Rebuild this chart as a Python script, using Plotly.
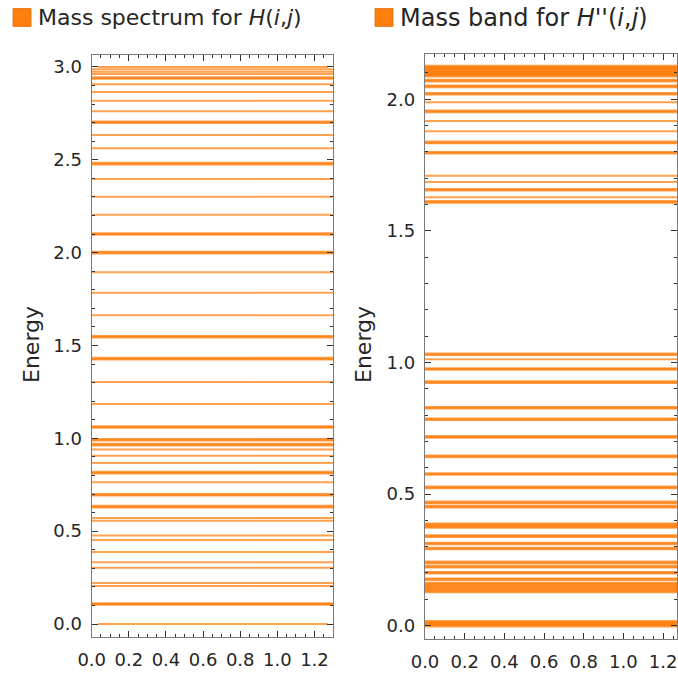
import plotly.graph_objects as go

# ---------------- data ----------------
# Left panel: mass spectrum for H(i,j); multiplicity 2 = darker/thicker line
left_levels = [3.000, 2.987, 2.974, 2.962, 2.940, 2.906, 2.865, 2.818, 2.761, 2.702,
               2.633, 2.562, 2.479, 2.396, 2.301, 2.204, 2.100, 2.000, 1.894, 1.784,
               1.662, 1.547, 1.429, 1.303, 1.185, 1.061, 0.992, 0.966, 0.939, 0.906,
               0.867, 0.815, 0.763, 0.696, 0.632, 0.571, 0.556, 0.476, 0.452, 0.388,
               0.332, 0.303, 0.221, 0.205, 0.108, 0.000]
left_mult = [1, 1, 1, 1, 2, 1, 1, 1, 1, 2,
             1, 1, 2, 1, 1, 1, 2, 2, 1, 1,
             1, 2, 2, 1, 1, 2, 2, 2, 1, 1,
             1, 2, 1, 2, 2, 1, 1, 1, 1, 1,
             1, 1, 1, 1, 2, 1]
left_short = [3.000, 0.000]   # the two end levels are drawn a little shorter

# Right panel: mass band for H''(i,j)
right_levels = [2.124, 2.117, 2.110, 2.103, 2.096, 2.090, 2.071, 2.049, 2.021, 1.989,
                1.954, 1.917, 1.878, 1.836, 1.797, 1.709, 1.686, 1.656, 1.628, 1.610,
                1.031, 1.012, 0.975, 0.925, 0.828, 0.784, 0.717, 0.643, 0.576, 0.525,
                0.468, 0.452, 0.385, 0.375, 0.340, 0.312, 0.293, 0.240, 0.224, 0.201,
                0.176, 0.160, 0.150, 0.140, 0.130, 0.014, 0.007, 0.000]
right_mult = [2, 2, 2, 2, 2, 2, 2, 2, 2, 1,
              2, 1, 1, 2, 2, 1, 1, 2, 1, 2,
              2, 1, 2, 2, 2, 2, 2, 2, 2, 2,
              2, 2, 2, 2, 2, 2, 2, 2, 2, 2,
              2, 2, 2, 2, 2, 2, 2, 2]

x_ticks = [0.0, 0.2, 0.4, 0.6, 0.8, 1.0, 1.2]
left_x_extent = [0.0, 1.3]
left_short_extent = [0.034, 1.273]
right_x_extent = [0.0, 1.27]

legend_left = "Mass spectrum for <i>H</i>(<i>i</i>,<i>j</i>)"
legend_right = "Mass band for <i>H</i>''(<i>i</i>,<i>j</i>)"
y_title = "Energy"

# ---------------- styling ----------------
ORANGE = "#ff7f0e"
FONT = "DejaVu Sans"
TXT = "#262626"
W, H = 678, 675

fig = go.Figure()


def add_levels(levels, mults, xext, xa, ya, short=(), short_ext=None):
    for e, m in zip(levels, mults):
        ext = short_ext if (e in short and short_ext) else xext
        for k in range(m):
            fig.add_trace(go.Scatter(
                x=ext, y=[e, e], mode="lines",
                line=dict(color=ORANGE, width=2.0 + 1.6 * k),
                opacity=0.72, hoverinfo="skip", showlegend=False,
                xaxis=xa, yaxis=ya))


add_levels(left_levels, left_mult, left_x_extent, "x", "y",
           short=left_short, short_ext=left_short_extent)
add_levels(right_levels, right_mult, right_x_extent, "x2", "y2")


def px_x(p):
    return p / W


def px_y(p):
    return 1 - p / H


axis_common = dict(
    automargin=False,
    showgrid=False, zeroline=False, showline=True, linecolor="#7a7a7a", linewidth=1.3,
    mirror="ticks", ticks="inside", ticklen=6, tickwidth=1, tickcolor="#333333",
    tickfont=dict(family=FONT, size=18, color=TXT), tickformat=".1f",
)

fig.update_layout(
    template="none",
    width=W, height=H,
    margin=dict(l=0, r=0, t=0, b=0, pad=0),
    paper_bgcolor="white", plot_bgcolor="white",
    showlegend=False,
    xaxis=dict(**axis_common, domain=[px_x(91.7), px_x(333)], range=left_x_extent,
               tickvals=x_ticks, anchor="y", ticklabelstandoff=6,
               minor=dict(dtick=0.05, tick0=0, ticks="inside", ticklen=3, tickcolor="#333333")),
    yaxis=dict(**axis_common, domain=[px_y(637), px_y(55)], range=[-0.070, 3.064],
               dtick=0.5, tick0=0, anchor="x", ticklabelstandoff=5,
               minor=dict(dtick=0.1, tick0=0, ticks="inside", ticklen=3, tickcolor="#333333")),
    xaxis2=dict(**axis_common, domain=[px_x(425), px_x(677)], range=right_x_extent,
                tickvals=x_ticks, anchor="y2", ticklabelstandoff=6,
                minor=dict(dtick=0.05, tick0=0, ticks="inside", ticklen=3, tickcolor="#333333")),
    yaxis2=dict(**axis_common, domain=[px_y(639), px_y(54)], range=[-0.051, 2.172],
                dtick=0.5, tick0=0, anchor="x2", ticklabelstandoff=5,
                minor=dict(dtick=0.1, tick0=0, ticks="inside", ticklen=3, tickcolor="#333333")),
)

# legend squares
for x0 in (13, 375):
    fig.add_shape(type="rect", xref="paper", yref="paper",
                  x0=px_x(x0), x1=px_x(x0 + 18), y0=px_y(26.5), y1=px_y(8.5),
                  fillcolor=ORANGE, line=dict(color="#e07010", width=0.8))

fig.add_annotation(text=legend_left, xref="paper", yref="paper",
                   x=px_x(36), y=px_y(18), xanchor="left", yanchor="middle",
                   showarrow=False, font=dict(family=FONT, size=22, color=TXT))
fig.add_annotation(text=legend_right, xref="paper", yref="paper",
                   x=px_x(398), y=px_y(18), xanchor="left", yanchor="middle",
                   showarrow=False, font=dict(family=FONT, size=24, color=TXT))

# axis titles
for xc in (31, 363):
    fig.add_annotation(text=y_title, xref="paper", yref="paper",
                       x=px_x(xc), y=px_y(345), xanchor="center", yanchor="middle",
                       textangle=-90, showarrow=False,
                       font=dict(family=FONT, size=22, color=TXT))

fig.write_html("out.html", config={"displayModeBar": False},
               post_script="document.body.style.margin='0px';")
